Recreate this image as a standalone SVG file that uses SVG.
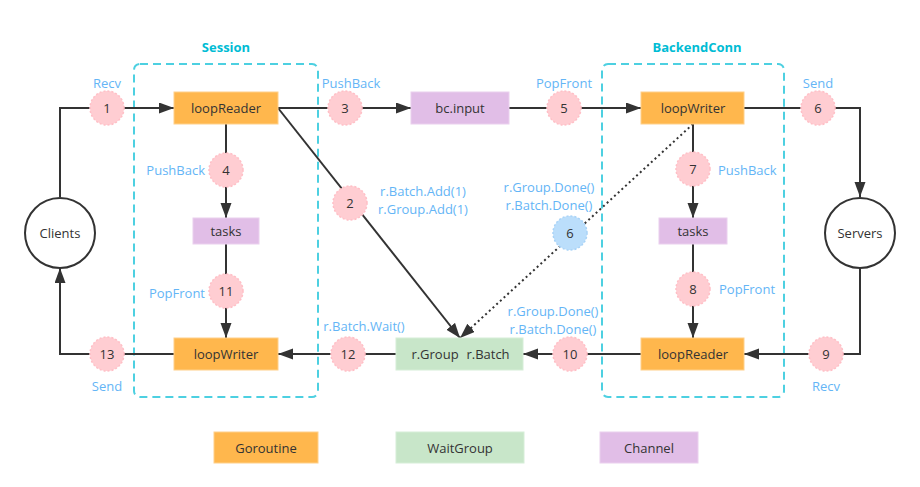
<svg xmlns="http://www.w3.org/2000/svg" width="920" height="487" viewBox="0 0 920 487">
<defs>
<marker id="arr" markerUnits="userSpaceOnUse" markerWidth="16" markerHeight="12" refX="15" refY="5.5" orient="auto">
<path d="M0,0 L15,5.5 L0,11 z" fill="#333"/>
</marker>
<style>
.t{font-family:"Open Sans","Noto Sans","Liberation Sans",sans-serif;font-size:13px;fill:#333;text-anchor:middle;dominant-baseline:central}
.lbl{font-family:"Open Sans","Noto Sans","Liberation Sans",sans-serif;font-size:13px;fill:#64b5f6;text-anchor:middle;dominant-baseline:central}
.ttl{font-family:"Open Sans","Noto Sans","Liberation Sans",sans-serif;font-size:13px;font-weight:bold;fill:#00bcd4;text-anchor:middle;dominant-baseline:central}
.grp{fill:none;stroke:#4dd0e1;stroke-width:2;stroke-dasharray:8,5}
.gor{fill:#ffb74d;stroke:#ffd08a;stroke-width:1}
.wg{fill:#c8e6c9;stroke:#d6eed7;stroke-width:1}
.ch{fill:#e1bee7;stroke:#ead0ee;stroke-width:1}
.pk{fill:#ffcdd2;stroke:#ffbfc6;stroke-width:1.5;stroke-dasharray:2,2}
.bl{fill:#bbdefb;stroke:#a9d3f7;stroke-width:1.5;stroke-dasharray:2,2}
.ep{fill:#fff;stroke:#333;stroke-width:2}
.ln{fill:none;stroke:#333;stroke-width:2}
</style>
</defs>
<rect width="920" height="487" fill="#fff"/>
<g id="session-group">
<rect class="grp" x="134" y="64" width="184" height="333" rx="6"/>
<text class="ttl" x="226" y="47">Session</text>
</g>
<g id="backend-group">
<rect class="grp" x="602" y="64" width="182" height="333" rx="6"/>
<text class="ttl" x="697" y="47">BackendConn</text>
</g>
<g id="connectors">
<path class="ln" d="M60,197 V108 H174" marker-end="url(#arr)"/>
<path class="ln" d="M278,108 H411" marker-end="url(#arr)"/>
<path class="ln" d="M509,108 H641" marker-end="url(#arr)"/>
<path class="ln" d="M744,108 H860 V197" marker-end="url(#arr)"/>
<path class="ln" d="M860,268 V354 H744" marker-end="url(#arr)"/>
<path class="ln" d="M693,124 V218" marker-end="url(#arr)"/>
<path class="ln" d="M693,244 V338" marker-end="url(#arr)"/>
<path class="ln" d="M641,354 H523" marker-end="url(#arr)"/>
<path class="ln" d="M396,354 H278" marker-end="url(#arr)"/>
<path class="ln" d="M174,354 H60 V268" marker-end="url(#arr)"/>
<path class="ln" d="M226,124 V218" marker-end="url(#arr)"/>
<path class="ln" d="M226,244 V338" marker-end="url(#arr)"/>
<path class="ln" d="M278,108 L460,338" marker-end="url(#arr)"/>
<path class="ln" d="M693,124 L460,338" stroke-dasharray="2,3" marker-end="url(#arr)"/>
</g>
<g id="clients"><circle class="ep" cx="60" cy="233" r="35"/><text class="t" x="60" y="233">Clients</text></g>
<g id="servers"><circle class="ep" cx="860" cy="233" r="35"/><text class="t" x="860" y="233">Servers</text></g>
<g id="s-loopReader"><rect class="gor" x="174" y="92" width="104" height="32"/><text class="t" x="226" y="108">loopReader</text></g>
<g id="s-tasks"><rect class="ch" x="193" y="218" width="66" height="26"/><text class="t" x="226" y="231">tasks</text></g>
<g id="s-loopWriter"><rect class="gor" x="174" y="338" width="104" height="32"/><text class="t" x="226" y="354">loopWriter</text></g>
<g id="bc-input"><rect class="ch" x="411" y="92" width="98" height="32"/><text class="t" x="460" y="108">bc.input</text></g>
<g id="waitgroup"><rect class="wg" x="396" y="338" width="127" height="32"/><text class="t" x="460" y="354"><tspan x="435">r.Group</tspan><tspan x="488">r.Batch</tspan></text></g>
<g id="b-loopWriter"><rect class="gor" x="641" y="92" width="103" height="32"/><text class="t" x="693" y="108">loopWriter</text></g>
<g id="b-tasks"><rect class="ch" x="659" y="218" width="68" height="26"/><text class="t" x="693" y="231">tasks</text></g>
<g id="b-loopReader"><rect class="gor" x="641" y="338" width="103" height="32"/><text class="t" x="693" y="354">loopReader</text></g>
<g id="step1"><circle class="pk" cx="107" cy="108" r="17"/><text class="t" x="107" y="108">1</text><text class="lbl" x="107" y="83">Recv</text></g>
<g id="step2"><circle class="pk" cx="350" cy="203" r="17"/><text class="t" x="350" y="203">2</text><text class="lbl" x="423" y="191">r.Batch.Add(1)</text><text class="lbl" x="423" y="209">r.Group.Add(1)</text></g>
<g id="step3"><circle class="pk" cx="345" cy="108" r="17"/><text class="t" x="345" y="108">3</text><text class="lbl" x="351" y="83">PushBack</text></g>
<g id="step4"><circle class="pk" cx="226" cy="170" r="17"/><text class="t" x="226" y="170">4</text><text class="lbl" x="205" y="170" style="text-anchor:end">PushBack</text></g>
<g id="step5"><circle class="pk" cx="564" cy="108" r="17"/><text class="t" x="564" y="108">5</text><text class="lbl" x="564" y="83">PopFront</text></g>
<g id="step6"><circle class="pk" cx="818" cy="108" r="17"/><text class="t" x="818" y="108">6</text><text class="lbl" x="818" y="83">Send</text></g>
<g id="step6b"><circle class="bl" cx="570" cy="233" r="17"/><text class="t" x="570" y="233">6</text><text class="lbl" x="549" y="187">r.Group.Done()</text><text class="lbl" x="549" y="205">r.Batch.Done()</text></g>
<g id="step7"><circle class="pk" cx="693" cy="169" r="17"/><text class="t" x="693" y="169">7</text><text class="lbl" x="718" y="170" style="text-anchor:start">PushBack</text></g>
<g id="step8"><circle class="pk" cx="693" cy="289" r="17"/><text class="t" x="693" y="289">8</text><text class="lbl" x="719" y="289" style="text-anchor:start">PopFront</text></g>
<g id="step9"><circle class="pk" cx="826" cy="354" r="17"/><text class="t" x="826" y="354">9</text><text class="lbl" x="826" y="386">Recv</text></g>
<g id="step10"><circle class="pk" cx="570" cy="354" r="17"/><text class="t" x="570" y="354">10</text><text class="lbl" x="553" y="311">r.Group.Done()</text><text class="lbl" x="553" y="329">r.Batch.Done()</text></g>
<g id="step11"><circle class="pk" cx="226" cy="291" r="17"/><text class="t" x="226" y="291">11</text><text class="lbl" x="205" y="293" style="text-anchor:end">PopFront</text></g>
<g id="step12"><circle class="pk" cx="348" cy="354" r="17"/><text class="t" x="348" y="354">12</text><text class="lbl" x="364" y="326">r.Batch.Wait()</text></g>
<g id="step13"><circle class="pk" cx="107" cy="354" r="17"/><text class="t" x="107" y="354">13</text><text class="lbl" x="107" y="386">Send</text></g>
<g id="legend-goroutine"><rect class="gor" x="214" y="432" width="104" height="31"/><text class="t" x="266" y="448">Goroutine</text></g>
<g id="legend-waitgroup"><rect class="wg" x="396" y="432" width="128" height="31"/><text class="t" x="460" y="448">WaitGroup</text></g>
<g id="legend-channel"><rect class="ch" x="600" y="432" width="98" height="31"/><text class="t" x="649" y="448">Channel</text></g>
</svg>
